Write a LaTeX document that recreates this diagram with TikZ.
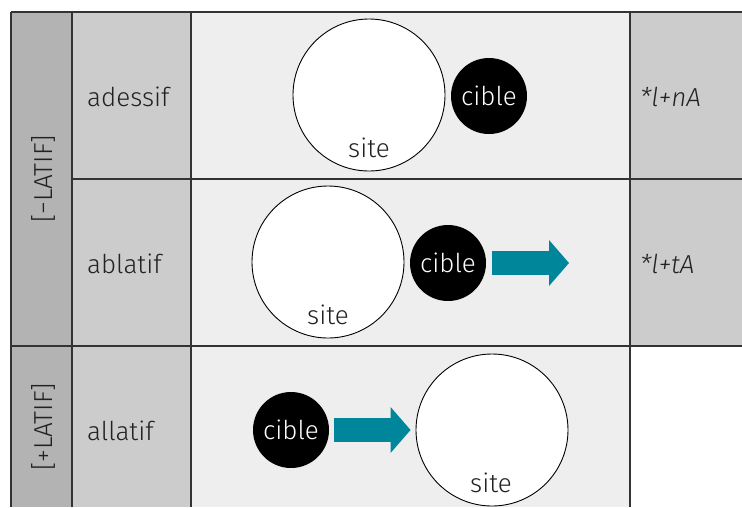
\documentclass[tikz,border=0pt]{standalone}
\usepackage{fontspec}
\setmainfont{Fira Sans}[UprightFont=* Light, ItalicFont=* Light Italic]
\usetikzlibrary{arrows.meta}
\definecolor{gA}{HTML}{B3B3B3}
\definecolor{gB}{HTML}{CCCCCC}
\definecolor{gC}{HTML}{EEEEEE}
\definecolor{teal}{HTML}{00869B}
\definecolor{ink}{HTML}{222222}
\definecolor{rule}{HTML}{333333}
\begin{document}
\begin{tikzpicture}[x=1pt,y=-1pt,
  txt/.style={font=\fontsize{26}{30}\selectfont, text=ink, inner sep=0pt},
  site/.style={circle, draw=black, line width=0.9pt, fill=white, minimum size=152pt, inner sep=0pt},
  cible/.style={circle, fill=black, minimum size=76pt, inner sep=0pt, text=white, font=\fontsize{26}{30}\selectfont},
  sitelbl/.style={txt, anchor=base},
  bigarrow/.style={draw=teal, line width=24pt, -{Triangle[length=20pt, width=46pt, line width=0pt]}},
  grid/.style={draw=rule, line width=1.2pt}]
\useasboundingbox (0,0) rectangle (742,507);
\fill[white] (0,0) rectangle (742,507);
% cell fills
\fill[gA] (11,12) rectangle (72,507);
\fill[gB] (72,12) rectangle (191,507);
\fill[gC] (191,12) rectangle (630,507);
\fill[gB] (630,12) rectangle (742,346);
% grid
\draw[grid] (11,12) -- (742,12);
\draw[grid] (72,179) -- (742,179);
\draw[grid] (11,346) -- (742,346);
\draw[grid] (11,12) -- (11,507);
\draw[grid] (72,12) -- (72,507);
\draw[grid] (191,12) -- (191,507);
\draw[grid] (630,12) -- (630,507);
% left column
\node[txt, rotate=90] (neg) at (43,179) {[−LATIF]};
\node[txt, rotate=90] (pos) at (43,427) {[+LATIF]};
% row labels
\node[txt, anchor=west] (ade) at (87,97) {adessif};
\node[txt, anchor=west] (abl) at (87,264) {ablatif};
\node[txt, anchor=west] (all) at (87,431) {allatif};
% right column
\node[txt, anchor=west] (nA) at (640,97) {\itshape *l+nA};
\node[txt, anchor=west] (tA) at (640,264) {\itshape *l+tA};
% row 1
\node[site] (s1) at (369,95) {};
\node[sitelbl] (s1l) at (369,157) {site};
\node[cible] (c1) at (489,96) {cible};
% row 2
\node[site] (s2) at (328,262) {};
\node[sitelbl] (s2l) at (328,324) {site};
\node[cible] (c2) at (448,263) {cible};
\coordinate (e2) at (569,263);
\draw[bigarrow, shorten <=6pt] (c2) -- (e2);
% row 3
\node[cible] (c3) at (291,430) {cible};
\node[site] (s3) at (492,430) {};
\node[sitelbl] (s3l) at (491,492) {site};
\draw[bigarrow, shorten <=5pt, shorten >=5pt] (c3) -- (s3);
\end{tikzpicture}
\end{document}
